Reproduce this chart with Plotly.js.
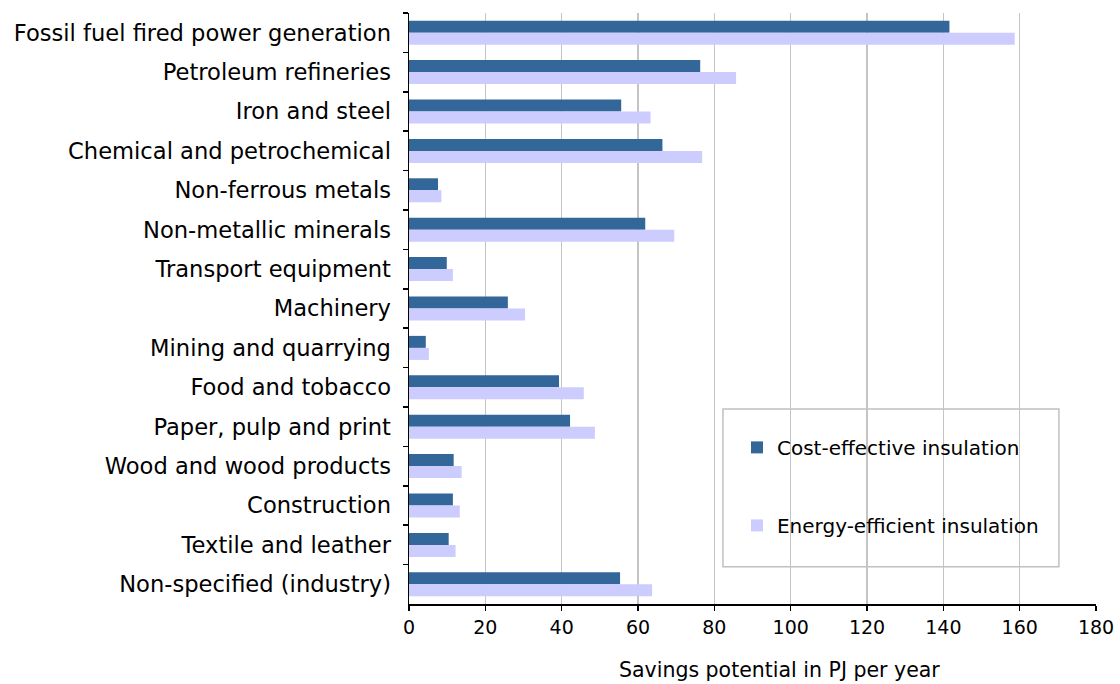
<!DOCTYPE html>
<html>
<head>
<meta charset="utf-8">
<script src="https://cdn.plot.ly/plotly-3.0.1.min.js"></script>
<style>html,body{margin:0;padding:0;background:#fff;}#chart{width:1120px;height:684px;}</style>
</head>
<body>
<div id="chart"></div>
<script>
const categories = [
  "Fossil fuel fired power generation",
  "Petroleum refineries",
  "Iron and steel",
  "Chemical and petrochemical",
  "Non-ferrous metals",
  "Non-metallic minerals",
  "Transport equipment",
  "Machinery",
  "Mining and quarrying",
  "Food and tobacco",
  "Paper, pulp and print",
  "Wood and wood products",
  "Construction",
  "Textile and leather",
  "Non-specified (industry)"
];
const costEffective = [141.6, 76.3, 55.6, 66.4, 7.6, 61.9, 9.9, 25.9, 4.4, 39.3, 42.2, 11.7, 11.5, 10.4, 55.3];
const energyEfficient = [158.7, 85.7, 63.3, 76.8, 8.5, 69.5, 11.5, 30.4, 5.2, 45.8, 48.7, 13.8, 13.3, 12.2, 63.7];
const seriesNames = ["Cost-effective insulation", "Energy-efficient insulation"];
const xTicks = [0, 20, 40, 60, 80, 100, 120, 140, 160, 180];
const xTitle = "Savings potential in PJ per year";

const FONT = "DejaVu Sans, Verdana, sans-serif";

const data = [
  {type: "bar", orientation: "h", name: seriesNames[0], y: categories, x: costEffective,
   marker: {color: "#336699"}, legendgroup: "a"},
  {type: "bar", orientation: "h", name: seriesNames[1], y: categories, x: energyEfficient,
   marker: {color: "#ccccff"}, legendgroup: "b"}
];

const layout = {
  width: 1120, height: 684,
  margin: {l: 409, r: 24, t: 13, b: 80, pad: 0},
  paper_bgcolor: "#fff", plot_bgcolor: "#fff",
  barmode: "group", bargap: 0.39, bargroupgap: 0,
  font: {family: FONT, color: "#000", size: 19},
  showlegend: true,
  legend: {
    x: 0.4774, y: 0.298, xanchor: "left", yanchor: "top",
    bgcolor: "rgba(0,0,0,0)", borderwidth: 0,
    font: {family: FONT, size: 20, color: "#000"},
    tracegroupgap: 49, traceorder: "grouped"
  },
  xaxis: {
    range: [0, 180], tickvals: xTicks, ticktext: xTicks.map(String),
    showgrid: true, gridcolor: "#c4c4c4", gridwidth: 1.5,
    showline: true, linecolor: "#000", linewidth: 2,
    ticks: "outside", ticklen: 5, tickcolor: "#000", tickwidth: 1.5,
    tickfont: {family: FONT, size: 19}, zeroline: false, fixedrange: true
  },
  yaxis: {
    type: "category", autorange: "reversed",
    showline: true, linecolor: "#000", linewidth: 1.5,
    ticks: "outside", ticklen: 5, tickcolor: "#000", tickwidth: 1.5,
    tickson: "boundaries", showgrid: false, ticklabelstandoff: 12,
    tickfont: {family: FONT, size: 22.6}, fixedrange: true
  },
  shapes: [{
    type: "rect", xref: "paper", yref: "paper",
    x0: 0.457, x1: 0.946, y0: 0.063, y1: 0.330,
    line: {color: "#c0c0c0", width: 1.5}, fillcolor: "rgba(255,255,255,1)", layer: "below"
  }],
  annotations: [{
    text: xTitle, xref: "paper", yref: "paper", x: 0.54, y: -0.112,
    xanchor: "center", yanchor: "middle", showarrow: false,
    font: {family: FONT, size: 20.5, color: "#000"}
  }]
};

Plotly.newPlot("chart", data, layout, {displayModeBar: false, staticPlot: true});
</script>
</body>
</html>
